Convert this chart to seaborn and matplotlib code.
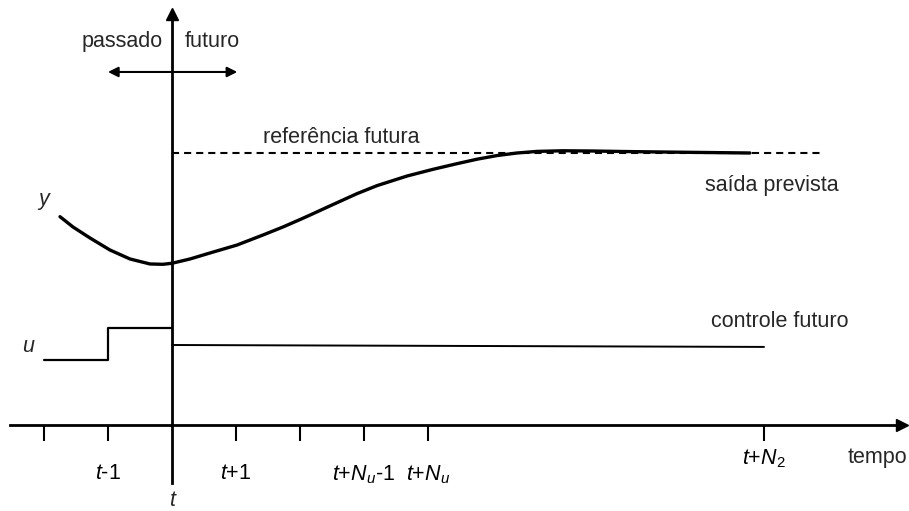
import matplotlib
matplotlib.use("Agg")
import matplotlib.pyplot as plt
import matplotlib.transforms as mtransforms
import seaborn as sns

# predicted output y (time in sampling steps, t = 0)
time_y = [-1.75, -1.547, -1.281, -0.969, -0.656, -0.344, -0.141, 0.0, 0.281, 0.594,
          1.016, 1.422, 1.734, 2.0, 2.156, 2.516, 2.891, 3.203, 3.672, 4.078,
          4.453, 4.766, 5.078, 5.391, 5.703, 6.109, 6.578, 7.078, 7.625, 9.031]
y_out = [3.255, 3.094, 2.922, 2.734, 2.594, 2.516, 2.511, 2.527, 2.594, 2.688,
         2.812, 2.969, 3.094, 3.21, 3.28, 3.445, 3.615, 3.74, 3.89, 3.995,
         4.083, 4.153, 4.21, 4.25, 4.275, 4.285, 4.281, 4.273, 4.266, 4.25]

# future reference
ref_t = [0.0, 10.17]
ref_val = [4.25, 4.25]

# control signal
u_past_t = [-2, -1, 0]
u_past = [1.02, 1.52, 1.52]
u_future_t = [0.0, 9.25]
u_future = [1.25, 1.22]

# time axis ticks
tick_pos = [-2, -1, 1, 2, 3, 4, 9.25]
tick_labels = ['', '$t$-1', '$t$+1', '', '$t$+$N_u$-1', '$t$+$N_u$', '$t$+$N_2$']

sns.set_theme(style='white')
plt.rcParams['font.family'] = ['Liberation Sans', 'DejaVu Sans']
plt.rcParams['mathtext.fontset'] = 'custom'
plt.rcParams['mathtext.rm'] = 'Liberation Sans'
plt.rcParams['mathtext.it'] = 'Liberation Sans:italic'
plt.rcParams['mathtext.bf'] = 'Liberation Sans:bold'

fig = plt.figure(figsize=(9.09, 5.11), dpi=100)
ax = fig.add_axes([0, 0, 1, 1])
ax.set_xlim(-172 / 64, 737 / 64)
ax.set_ylim(-86 / 64, 425 / 64)

FS = 15.5

sns.lineplot(x=time_y, y=y_out, color='black', lw=2.4, ax=ax, sort=False)
ax.lines[-1].set_solid_joinstyle('round')
sns.lineplot(x=ref_t, y=ref_val, color='black', lw=1.5, ax=ax)
ax.lines[-1].set_dashes((3.4, 2.4))
sns.lineplot(x=u_past_t, y=u_past, color='black', lw=1.6, drawstyle='steps-post', ax=ax)
sns.lineplot(x=u_future_t, y=u_future, color='black', lw=1.4, ax=ax)

# axes through the origin
for s in ['top', 'right']:
    ax.spines[s].set_visible(False)
ax.spines['bottom'].set_position(('data', 0))
ax.spines['left'].set_position(('data', 0))
ax.spines['bottom'].set_bounds(-162 / 64, 726 / 64)
ax.spines['left'].set_bounds(-58 / 64, 407 / 64)
for s in ['bottom', 'left']:
    ax.spines[s].set_linewidth(2)
    ax.spines[s].set_color('black')
ax.plot(730 / 64, 0, marker='>', ms=9, color='black', clip_on=False)
ax.plot(0, 411 / 64, marker='^', ms=9, color='black', clip_on=False)

ax.set_yticks([])
ax.set_xticks(tick_pos, tick_labels, fontsize=FS)
ax.tick_params(axis='x', bottom=True, direction='out', length=11.5, width=1.5,
               pad=16, colors='black')
shift = mtransforms.ScaledTranslation(0, 16 / 100, fig.dpi_scale_trans)
xt = ax.get_xticklabels()
xt[-1].set_transform(xt[-1].get_transform() + shift)

# passado / futuro
ax.annotate('', xy=(-1, 5.516), xytext=(1.02, 5.516),
            arrowprops=dict(arrowstyle='<|-|>', color='black', lw=1.5,
                            mutation_scale=15, shrinkA=0, shrinkB=0))
ax.text(-0.14, 5.906, 'passado', ha='right', va='baseline', fontsize=FS)
ax.text(0.2, 5.906, 'futuro', ha='left', va='baseline', fontsize=FS)

ax.text(-2.0, 3.44, 'y', style='italic', ha='center', va='baseline', fontsize=FS)
ax.text(-2.25, 1.14, 'u', style='italic', ha='center', va='baseline', fontsize=FS)
ax.text(0, -1.27, 't', style='italic', ha='center', va='baseline', fontsize=FS)

ax.text(2.64, 4.406, 'referência futura', ha='center', va='baseline', fontsize=FS)
ax.text(9.375, 3.656, 'saída prevista', ha='center', va='baseline', fontsize=FS)
ax.text(9.5, 1.53, 'controle futuro', ha='center', va='baseline', fontsize=FS)
ax.text(11.03, -0.594, 'tempo', ha='center', va='baseline', fontsize=FS)

plt.savefig('out.png', dpi=100)
plt.close()
